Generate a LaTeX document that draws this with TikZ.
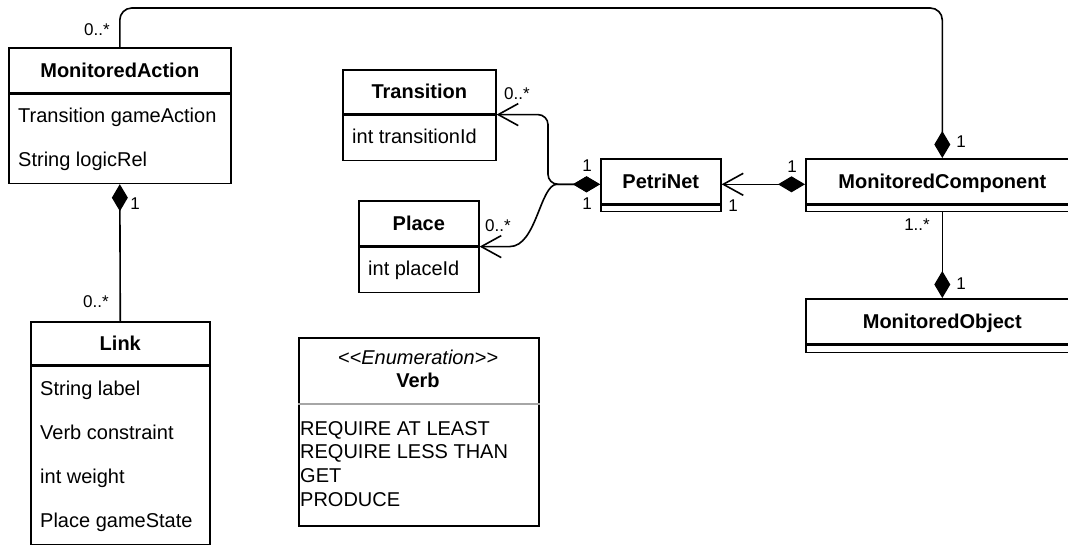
\documentclass[tikz,border=0pt]{standalone}
\usepackage{fontspec}
\setmainfont{Liberation Sans}
\usetikzlibrary{arrows.meta}

\begin{document}
\begin{tikzpicture}[x=1pt,y=1pt,
	compo/.tip={Diamond[length=27pt,width=16pt]},
	navi/.tip={Straight Barb[length=20pt,width=22pt]}]
	\tikzstyle{every node}+=[inner sep=0pt, font=\fontsize{20}{24}\selectfont, text height=14.3pt, text depth=0pt]
	\tikzstyle{box}=[draw, line width=1.6pt, anchor=north west]
	\tikzstyle{head}=[box, font=\fontsize{20}{24}\selectfont\bfseries]
	\tikzstyle{body}=[box, text height=0pt]
	\tikzstyle{attr}=[anchor=west]
	\tikzstyle{mult}=[font=\fontsize{17}{20}\selectfont, text height=12.2pt]
	\tikzstyle{conn}=[line width=1.6pt]
	\useasboundingbox (0,0) rectangle (1068,-544);
	\node[head, minimum width=222pt, minimum height=45pt] (ma) at (8,-47) {MonitoredAction};
	\node[body, minimum width=222pt, minimum height=89pt] (mabody) at (ma.south west) {};
	\node[attr] (maa1) at (18,-115) {Transition gameAction};
	\node[attr] (maa2) at (18,-159) {String logicRel};
	\node[head, minimum width=153pt, minimum height=44pt] (tr) at (342,-69) {Transition};
	\node[body, minimum width=153pt, minimum height=45pt] (trbody) at (tr.south west) {};
	\node[attr] (tra1) at (352,-136) {int transitionId};
	\node[head, minimum width=120pt, minimum height=45pt] (pl) at (358,-200) {Place};
	\node[body, minimum width=120pt, minimum height=45pt] (plbody) at (pl.south west) {};
	\node[attr] (pla1) at (368,-268) {int placeId};
	\node[head, minimum width=120pt, minimum height=45pt] (pn) at (600,-158) {PetriNet};
	\node[body, minimum width=120pt, minimum height=6pt] (pnbody) at (pn.south west) {};
	\node[head, minimum width=273pt, minimum height=45pt] (mc) at (805,-158) {MonitoredComponent};
	\node[body, minimum width=273pt, minimum height=6pt] (mcbody) at (mc.south west) {};
	\node[head, minimum width=273pt, minimum height=45pt] (mo) at (805,-298) {MonitoredObject};
	\node[body, minimum width=273pt, minimum height=7pt] (mobody) at (mo.south west) {};
	\node[head, minimum width=179pt, minimum height=43pt] (lk) at (30,-321) {Link};
	\node[body, minimum width=179pt, minimum height=178pt] (lkbody) at (lk.south west) {};
	\node[attr] (lka1) at (40,-388) {String label};
	\node[attr] (lka2) at (40,-432) {Verb constraint};
	\node[attr] (lka3) at (40,-476) {int weight};
	\node[attr] (lka4) at (40,-520) {Place gameState};
	\node[body, minimum width=240pt, minimum height=188pt] (vb) at (298,-337) {};
	\draw[line width=1.6pt, gray!70] ([yshift=-67pt]vb.north west) -- ([yshift=-67pt]vb.north east);
	\node[font=\fontsize{20}{24}\selectfont\itshape] (vbstereo) at (418,-357) {<\kern0pt<Enumeration>\kern0pt>};
	\node[font=\fontsize{20}{24}\selectfont\bfseries] (vbname) at (418,-380) {Verb};
	\node[attr] (vbi1) at (300,-428) {REQUIRE AT LEAST};
	\node[attr] (vbi2) at (300,-451) {REQUIRE LESS THAN};
	\node[attr] (vbi3) at (300,-475) {GET};
	\node[attr] (vbi4) at (300,-499) {PRODUCE};
	\draw[conn, rounded corners=12pt, -compo] (ma.north) -- ++(0,39) -| (mc.north);
	\draw[conn, compo-] (mabody.south) -- (lk.north);
	\draw[conn, -compo] (mcbody.south) -- (mo.north);
	\draw[conn, compo-navi] ([yshift=-3pt]mc.west) -- ([yshift=-3pt]pn.east);
	\draw[conn, rounded corners=10pt, compo-navi] ([yshift=-3pt]pn.west) -- ++(-52,0) |- (tr.south east);
	\draw[conn, compo-navi] ([yshift=-3pt]pn.west) -- ++(-43,0) .. controls +(-17,0) and +(27,0) .. ([xshift=30pt]pl.south east) -- (pl.south east);
	\node[mult] (lbmatop) at (97,-29) {0..*};
	\node[mult] (lbmadia) at (135,-203) {1};
	\node[mult] (lblk) at (96,-301) {0..*};
	\node[mult] (lbtr) at (517,-93) {0..*};
	\node[mult] (lbpl) at (498,-225) {0..*};
	\node[mult] (lbpntop) at (587,-165) {1};
	\node[mult] (lbpnbot) at (587,-203) {1};
	\node[mult] (lbmcleft) at (792,-166) {1};
	\node[mult] (lbpnright) at (733,-205) {1};
	\node[mult] (lbmctop) at (961,-141) {1};
	\node[mult] (lbmcbot) at (917,-224) {1..*};
	\node[mult] (lbmo) at (961,-283) {1};
\end{tikzpicture}
\end{document}
